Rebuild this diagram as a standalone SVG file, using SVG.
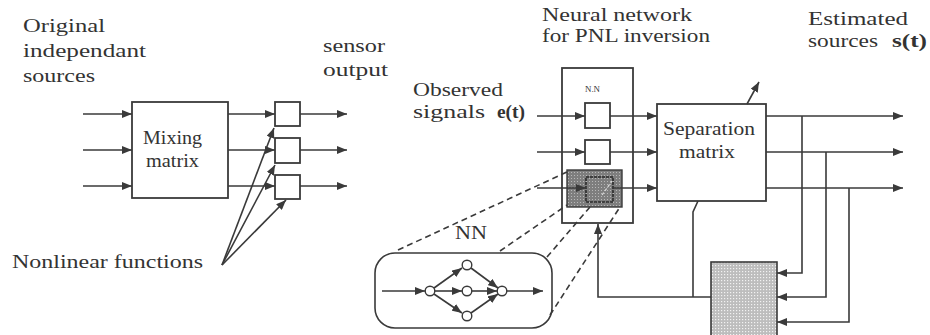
<svg xmlns="http://www.w3.org/2000/svg" width="930" height="335" viewBox="0 0 930 335">
<defs>
<marker id="ah" viewBox="0 0 10 8" refX="10" refY="4" markerWidth="10" markerHeight="8" markerUnits="userSpaceOnUse" orient="auto">
<path d="M0,0 L10,4 L0,8 Z" fill="#3a3a3a"/>
</marker>
<pattern id="darkdots" width="3" height="3" patternUnits="userSpaceOnUse">
<rect width="3" height="3" fill="#7e7e7e"/>
<rect x="1" y="1" width="1" height="1" fill="#b8b8b8"/>
</pattern>
<pattern id="lightdots" width="3" height="3" patternUnits="userSpaceOnUse">
<rect width="3" height="3" fill="#bdbdbd"/>
<rect x="1" y="1" width="1.2" height="1.2" fill="#f2f2f2"/>
</pattern>
</defs>
<style>
text{font-family:"Liberation Serif","Times New Roman",serif;font-size:19px;fill:#333}
.b{font-weight:bold}
.sm{font-size:9px}
.ln{fill:none;stroke:#3a3a3a;stroke-width:1.6}
.ar{fill:none;stroke:#3a3a3a;stroke-width:1.6;marker-end:url(#ah)}
.box{fill:#fff;stroke:#3a3a3a;stroke-width:1.8}
.dash{fill:none;stroke:#3a3a3a;stroke-width:1.6;stroke-dasharray:6,4}
</style>
<rect width="930" height="335" fill="#fff"/>

<g id="labels">
<text x="23" y="32" textLength="82" lengthAdjust="spacingAndGlyphs">Original</text>
<text x="23" y="57" textLength="123" lengthAdjust="spacingAndGlyphs">independant</text>
<text x="23" y="82" textLength="72" lengthAdjust="spacingAndGlyphs">sources</text>
<text x="323" y="52" textLength="62" lengthAdjust="spacingAndGlyphs">sensor</text>
<text x="323" y="76" textLength="65" lengthAdjust="spacingAndGlyphs">output</text>
<text x="12" y="268" textLength="191" lengthAdjust="spacingAndGlyphs">Nonlinear functions</text>
<text x="542" y="21" textLength="150" lengthAdjust="spacingAndGlyphs">Neural network</text>
<text x="542" y="42" textLength="168" lengthAdjust="spacingAndGlyphs">for PNL inversion</text>
<text x="413" y="96" textLength="90" lengthAdjust="spacingAndGlyphs">Observed</text>
<text x="413" y="118" textLength="72" lengthAdjust="spacingAndGlyphs">signals</text>
<text x="497" y="118" textLength="28" lengthAdjust="spacingAndGlyphs" class="b">e(t)</text>
<text x="808" y="25" textLength="100" lengthAdjust="spacingAndGlyphs">Estimated</text>
<text x="808" y="47" textLength="70" lengthAdjust="spacingAndGlyphs">sources</text>
<text x="892" y="47" textLength="35" lengthAdjust="spacingAndGlyphs" class="b">s(t)</text>
</g>

<g id="mixing">
<rect class="box" x="132" y="102" width="96" height="96"/>
<text x="143" y="144" textLength="59" lengthAdjust="spacingAndGlyphs">Mixing</text>
<text x="146" y="167" textLength="53" lengthAdjust="spacingAndGlyphs">matrix</text>
</g>
<g id="sensor1"><rect class="box" x="275" y="102" width="25" height="24"/></g>
<g id="sensor2"><rect class="box" x="275" y="138" width="25" height="25"/></g>
<g id="sensor3"><rect class="box" x="275" y="175" width="25" height="24"/></g>

<g id="nnblock">
<rect class="box" x="562" y="68" width="71" height="155"/>
<text x="585" y="92" class="sm" textLength="15" lengthAdjust="spacingAndGlyphs">N.N</text>
<rect x="585" y="103" width="25" height="25" class="box"/>
<rect x="585" y="140" width="25" height="24" class="box"/>
<rect x="567" y="170" width="55" height="37" fill="url(#darkdots)" stroke="#3a3a3a" stroke-width="1.4"/>
<rect x="586" y="177" width="27" height="25" fill="none" stroke="#2a2a2a" stroke-width="1.6" stroke-dasharray="3,1"/>
<line x1="602" y1="195" x2="612" y2="181" stroke="#ddd" stroke-width="1.2" stroke-dasharray="3,2"/>
</g>

<g id="separation">
<rect class="box" x="657" y="104" width="109" height="97"/>
<text x="663" y="135" textLength="92" lengthAdjust="spacingAndGlyphs">Separation</text>
<text x="679" y="158" textLength="56" lengthAdjust="spacingAndGlyphs">matrix</text>
</g>

<g id="learning">
<rect x="711" y="262" width="66" height="80" fill="url(#lightdots)" stroke="#3a3a3a" stroke-width="1.6"/>
</g>

<g id="nnzoom">
<rect x="375" y="253" width="177" height="75" rx="20" ry="20" fill="#fff" stroke="#3a3a3a" stroke-width="1.6"/>
<text x="455" y="239" textLength="32" lengthAdjust="spacingAndGlyphs">NN</text>
<g fill="#fff" stroke="#3a3a3a" stroke-width="1.4">
<circle cx="430" cy="291" r="4.8"/>
<circle cx="467" cy="265" r="4.8"/>
<circle cx="467" cy="291" r="4.8"/>
<circle cx="467" cy="316" r="4.8"/>
<circle cx="502" cy="291" r="4.8"/>
</g>
</g>

<g id="connectors">
<line class="ar" x1="83" y1="114" x2="132" y2="114"/>
<line class="ar" x1="83" y1="150" x2="132" y2="150"/>
<line class="ar" x1="83" y1="186" x2="132" y2="186"/>
<line class="ar" x1="228" y1="114" x2="275" y2="114"/>
<line class="ar" x1="228" y1="150" x2="275" y2="150"/>
<line class="ar" x1="228" y1="186" x2="275" y2="186"/>
<line class="ar" x1="300" y1="114" x2="347" y2="114"/>
<line class="ar" x1="300" y1="150" x2="347" y2="150"/>
<line class="ar" x1="300" y1="186" x2="347" y2="186"/>
<line class="ar" x1="222" y1="265" x2="274" y2="128"/>
<line class="ar" x1="222" y1="265" x2="275" y2="165"/>
<line class="ar" x1="222" y1="265" x2="286" y2="200"/>

<line class="ar" x1="537" y1="116" x2="585" y2="116"/>
<line class="ar" x1="537" y1="152" x2="585" y2="152"/>
<line class="ar" x1="537" y1="188" x2="586" y2="188"/>
<line class="ar" x1="610" y1="116" x2="657" y2="116"/>
<line class="ar" x1="610" y1="152" x2="657" y2="152"/>
<line class="ar" x1="613" y1="188" x2="657" y2="188"/>
<line class="ar" x1="766" y1="116" x2="903" y2="116"/>
<line class="ar" x1="766" y1="152" x2="903" y2="152"/>
<line class="ar" x1="766" y1="188" x2="903" y2="188"/>
<line class="ar" x1="747" y1="104" x2="759" y2="82"/>
<polyline class="ar" points="802,116 802,273 777,273"/>
<polyline class="ar" points="826,152 826,297 777,297"/>
<polyline class="ar" points="849,188 849,322 777,322"/>
<polyline class="ln" points="698,201 693,212 693,297"/>
<polyline class="ar" points="711,297 598,297 598,224"/>

<line class="ar" x1="382" y1="291" x2="425" y2="291"/>
<line class="ar" x1="434" y1="288" x2="462" y2="268"/>
<line class="ar" x1="435" y1="291" x2="462" y2="291"/>
<line class="ar" x1="434" y1="294" x2="462" y2="313"/>
<line class="ar" x1="471" y1="268" x2="498" y2="288"/>
<line class="ar" x1="472" y1="291" x2="497" y2="291"/>
<line class="ar" x1="471" y1="313" x2="498" y2="294"/>
<line class="ar" x1="507" y1="291" x2="543" y2="291"/>

<line class="dash" x1="398" y1="250" x2="567" y2="172"/>
<line class="dash" x1="500" y1="251" x2="567" y2="205"/>
<line class="dash" x1="547" y1="257" x2="590" y2="207"/>
<line class="dash" x1="550" y1="315" x2="620" y2="207"/>
</g>
</svg>
